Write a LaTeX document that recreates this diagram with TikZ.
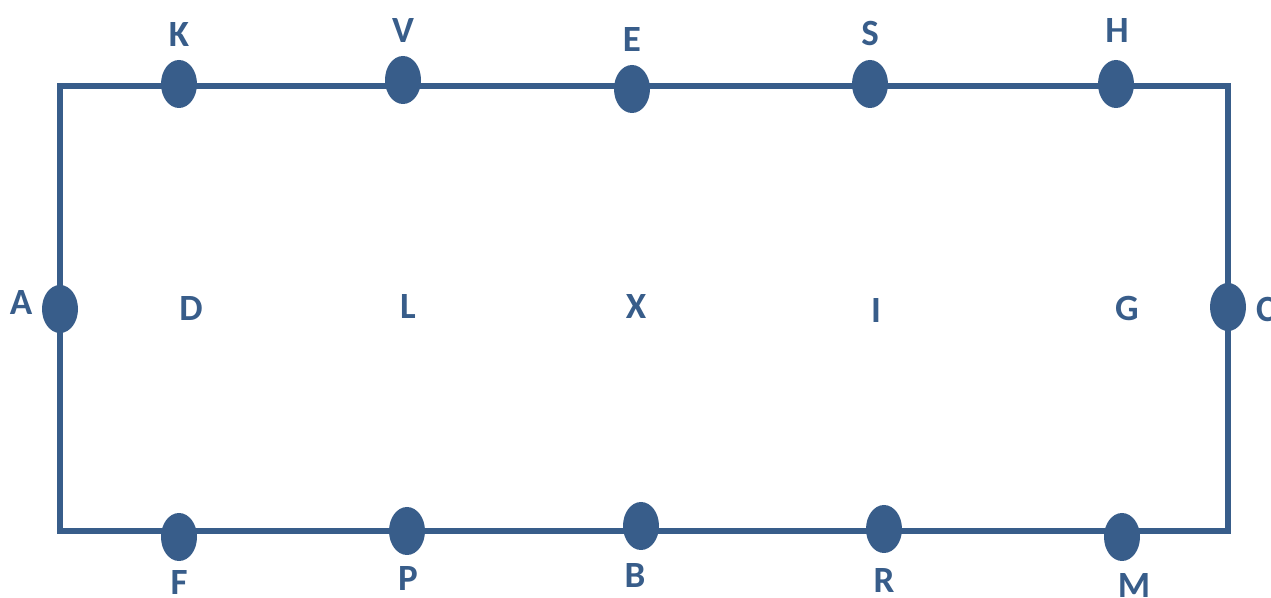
\documentclass[tikz,border=0pt]{standalone}
\usepackage{fontspec}
\setmainfont{Carlito}
\usetikzlibrary{shapes.geometric}
\definecolor{dk}{RGB}{56,93,138}
\tikzset{
  dot/.style={ellipse,fill=dk,draw=none,minimum width=18pt,minimum height=24pt,inner sep=0pt},
  lbl/.style={text=dk,font=\fontsize{18.5}{20}\selectfont\bfseries,inner sep=0pt,anchor=center,text height=12pt,text depth=0pt},
  edge/.style={draw=dk,line width=3pt,line join=miter}
}
\begin{document}
\begin{tikzpicture}[x=0.5pt,y=-0.5pt]
\useasboundingbox (0,0) rectangle (1271,598);
% corners
\coordinate (tl) at (60,86);
\coordinate (tr) at (1228,86);
\coordinate (br) at (1228,531);
\coordinate (bl) at (60,531);
\draw[edge] (tl) -- (tr) -- (br) -- (bl) -- cycle;
% dots
\node[dot] (k) at (179,84) {};
\node[dot] (v) at (403,80) {};
\node[dot] (e) at (632,89) {};
\node[dot] (s) at (870,84) {};
\node[dot] (h) at (1116,84) {};
\node[dot] (a) at (60,309) {};
\node[dot] (c) at (1228,307) {};
\node[dot] (f) at (179,537) {};
\node[dot] (p) at (407,531) {};
\node[dot] (b) at (641,526) {};
\node[dot] (r) at (884,529) {};
\node[dot] (m) at (1122,537) {};
% labels
\node[lbl] (lk) at (179,35) {K};
\node[lbl] (lv) at (403,31) {V};
\node[lbl] (le) at (632,40) {E};
\node[lbl] (ls) at (870,34) {S};
\node[lbl] (lh) at (1117,31) {H};
\node[lbl] (la) at (21,303) {A};
\node[lbl] (ld) at (191,309) {D};
\node[lbl] (ll) at (408,307) {L};
\node[lbl] (lx) at (636,307) {X};
\node[lbl] (li) at (876,311) {I};
\node[lbl] (lg) at (1127,309) {G};
\node[lbl] (lc) at (1266,310) {C};
\node[lbl] (lf) at (179,583) {F};
\node[lbl] (lp) at (408,579) {P};
\node[lbl] (lb) at (635,576) {B};
\node[lbl] (lr) at (884,581) {R};
\node[lbl] (lm) at (1134,586) {M};
\end{tikzpicture}
\end{document}
